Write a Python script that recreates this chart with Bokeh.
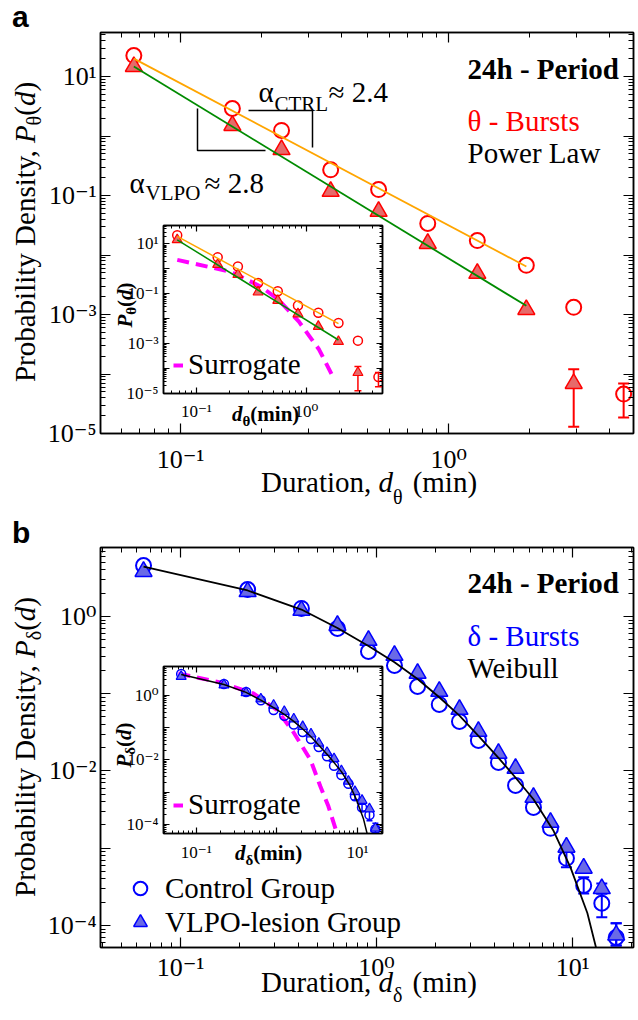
import math
from bokeh.plotting import figure
from bokeh.layouts import column
from bokeh.models import (Range1d, LogAxis, FixedTicker, CustomJSTickFormatter, Label,
                          Whisker, TeeHead, ColumnDataSource, Legend, LegendItem, Div)
from bokeh.embed import file_html
from bokeh.resources import INLINE

SERIF = "'Liberation Serif', 'Times New Roman', Times, 'DejaVu Serif', serif"
SANS = "'Liberation Sans', Arial, 'DejaVu Sans', sans-serif"
RED, BLUE = "#FF0000", "#0000FF"
ORANGE, GREEN, MAGENTA = "#FFA500", "#008B00", "#FF00FF"
RED_FILL, BLUE_FILL = "#E66A6A", "#6A6AE6"

# ---------------- panel a : theta bursts ----------------
theta_d = [0.0669, 0.156, 0.238, 0.363, 0.548, 0.836, 1.28, 1.95, 2.93, 4.5]
theta_ctrl = [22.5, 2.9, 1.24, 0.27, 0.126, 0.034, 0.0175, 0.0067, 0.00132, 4.6e-5]
theta_vlpo = [14.7, 1.5, 0.59, 0.117, 0.054, 0.0156, 0.0049, 0.00121, 6.9e-5]
theta_ctrl_err_d = [4.5]
theta_ctrl_err_lo = [1.86e-5]
theta_ctrl_err_hi = [6.9e-5]
theta_vlpo_err_d = [2.93]
theta_vlpo_err_lo = [1.3e-5]
theta_vlpo_err_hi = [1.2e-4]
theta_fit_d = [0.0669, 1.95]
theta_ctrl_fit = [20.0, 0.0064]
theta_vlpo_fit = [14.7, 0.0014]
theta_surr_d = [0.067, 0.206, 0.389, 0.558, 0.853, 1.30, 1.79]
theta_surr_p = [2.3, 0.76, 0.19, 0.057, 0.0076, 5.8e-4, 3.6e-5]

# ---------------- panel b : delta bursts ----------------
delta_d = [0.0648, 0.22, 0.414, 0.632, 0.91, 1.235, 1.62, 2.09, 2.65, 3.31, 4.19,
           5.12, 6.32, 7.72, 9.31, 11.4, 14.1, 16.7]
delta_ctrl = [4.57, 2.23, 1.27, 0.70, 0.352, 0.232, 0.124, 0.0727, 0.0438, 0.0249, 0.0129,
              0.00651, 0.00338, 0.00181, 7.4e-4, 3.3e-4, 1.94e-4, 7.0e-5]
delta_vlpo = [3.82, 2.1, 1.2, 0.765, 0.49, 0.313, 0.183, 0.107, 0.0627, 0.0325, 0.0169,
              0.0108, 0.00455, 0.00216, 1.03e-3, 5.5e-4, 3.0e-4, 7.5e-5]
delta_ctrl_err_d = [9.31, 11.4, 14.1, 16.7]
delta_ctrl_err_lo = [5.66e-4, 2.6e-4, 1.28e-4, 5.5e-5]
delta_ctrl_err_hi = [9.4e-4, 4.2e-4, 2.6e-4, 1.07e-4]
delta_vlpo_err_d = [14.1, 16.7]
delta_vlpo_err_lo = [2.6e-4, 5.5e-5]
delta_vlpo_err_hi = [3.5e-4, 1.07e-4]
weibull_d = [0.0648, 0.22, 0.414, 0.632, 0.91, 1.235, 1.62, 2.09, 2.65, 3.31, 4.19,
             5.0, 6.32, 8.0, 9.77, 11.9, 13.7]
weibull_p = [4.43, 2.17, 1.23, 0.71, 0.415, 0.255, 0.155, 0.09, 0.052, 0.0285, 0.0148,
             0.0088, 0.0043, 0.00168, 5.6e-4, 1.45e-4, 3.5e-5]
delta_surr_d = [0.0597, 0.199, 0.51, 1.01, 1.6, 2.61, 3.47, 4.36, 6.15]
delta_surr_p = [4.75, 2.51, 1.15, 0.346, 0.0727, 0.01, 1.48e-3, 3.6e-4, 2.4e-5]

# ---------------- layout geometry (page px) and log10 axis ranges ----------------
PAGE_W, PAGE_H = 636, 1018
BORDER_L, BORDER_R = 100, 3          # identical side borders for every plot in the column
GA = dict(L=100, R=633, T=32, B=433, x0=-1.299, x1=0.690, y0=-5.0, y1=1.74)
GAI = dict(L=163, R=382, T=225, B=393, x0=-1.299, x1=0.690, y0=-5.0, y1=1.74)
GB = dict(L=100, R=633, T=547, B=947, x0=-1.408, x1=1.311, y0=-4.285, y1=0.893)
GBI = dict(L=163, R=382, T=666, B=833, x0=-1.408, x1=1.311, y0=-4.285, y1=0.893)


def to_data(g, px, py):
    lx = g["x0"] + (px - g["L"]) / (g["R"] - g["L"]) * (g["x1"] - g["x0"])
    ly = g["y0"] + (g["B"] - py) / (g["B"] - g["T"]) * (g["y1"] - g["y0"])
    return 10 ** lx, 10 ** ly


def decade_ticker(lo, hi):
    klo, khi = math.floor(lo), math.ceil(hi)
    majors = [10.0 ** k for k in range(klo, khi + 1)]
    minors = [m * 10.0 ** k for k in range(klo, khi + 1) for m in range(2, 10)]
    return FixedTicker(ticks=majors, minor_ticks=minors)


def sup_fmt(show):
    return CustomJSTickFormatter(args=dict(show=list(show)), code="""
const e = Math.round(Math.log10(tick));
if (show.indexOf(e) < 0) { return ""; }
const sup = {"-": "\u207b", "0": "\u2070", "1": "\u00b9", "2": "\u00b2", "3": "\u00b3",
             "4": "\u2074", "5": "\u2075"};
return "10" + String(e).split("").map(c => sup[c]).join("");
""")


def make_fig(g, top, height, show_x, show_y, tick_font, tick_len, minor_len, sx, sy,
             inset=False):
    left = g["L"] - BORDER_L
    width = BORDER_L + (g["R"] - g["L"]) + BORDER_R
    p = figure(width=width, height=height, x_axis_type="log", y_axis_type="log",
               x_range=Range1d(10 ** g["x0"], 10 ** g["x1"]),
               y_range=Range1d(10 ** g["y0"], 10 ** g["y1"]),
               output_backend="svg", toolbar_location=None,
               min_border_left=BORDER_L, min_border_right=BORDER_R,
               min_border_top=g["T"] - top, min_border_bottom=top + height - g["B"])
    p.xgrid.visible = False
    p.ygrid.visible = False
    p.outline_line_color = "black"
    p.outline_line_width = 1.5
    if inset:
        p.background_fill_color = None
        p.border_fill_color = None
    bottom_ax = p.below[0]
    left_ax = p.left[0]
    top_ax = LogAxis()
    right_ax = LogAxis()
    p.add_layout(top_ax, "above")
    p.add_layout(right_ax, "right")
    xt = decade_ticker(g["x0"], g["x1"])
    yt = decade_ticker(g["y0"], g["y1"])
    for ax, t in ((bottom_ax, xt), (top_ax, xt), (left_ax, yt), (right_ax, yt)):
        ax.ticker = t
        ax.major_tick_in = tick_len
        ax.major_tick_out = 0
        ax.minor_tick_in = minor_len
        ax.minor_tick_out = 0
        ax.axis_line_color = "black"
        ax.axis_line_width = 1.5
        ax.major_tick_line_width = 1.2
        ax.minor_tick_line_width = 1.0
        ax.major_label_text_font = SERIF
        ax.major_label_text_color = "black"
        ax.axis_label = None
    bottom_ax.formatter = sup_fmt(show_x)
    left_ax.formatter = sup_fmt(show_y)
    bottom_ax.major_label_text_font_size = f"{tick_font}px"
    left_ax.major_label_text_font_size = f"{tick_font}px"
    bottom_ax.major_label_standoff = sx
    left_ax.major_label_standoff = sy
    for ax in (top_ax, right_ax):
        ax.formatter = sup_fmt([])
        ax.major_label_text_font_size = "0px"
        ax.major_label_standoff = 0
    return p, left


def whisker(p, d, lo, hi, color, lw, head):
    src = ColumnDataSource(dict(d=d, lo=lo, hi=hi))
    p.add_layout(Whisker(source=src, base="d", lower="lo", upper="hi", dimension="height",
                         line_color=color, line_width=lw,
                         upper_head=TeeHead(size=head, line_color=color, line_width=lw),
                         lower_head=TeeHead(size=head, line_color=color, line_width=lw)))


def surrogate_legend(p, r):
    p.add_layout(Legend(items=[LegendItem(label="Surrogate", renderers=[r])],
                        location=(10, 12), label_text_font=SERIF,
                        label_text_font_size="29px", label_text_color="black",
                        glyph_width=10, glyph_height=20,
                        label_standoff=5, padding=0, margin=0, spacing=0,
                        border_line_color=None, background_fill_alpha=0))


def put(p, g, px, py, text, size, color="black", style="normal"):
    x, y = to_data(g, px, py)
    p.add_layout(Label(x=x, y=y, text=text, text_font=SERIF, text_font_size=f"{size}px",
                       text_color=color, text_font_style=style, text_align="left",
                       text_baseline="alphabetic"))


# ======================= panel a (main) =======================
pa, _ = make_fig(GA, 0, 508, [-1, 0], [1, -1, -3, -5], 26, 10, 5, 11, 4)
whisker(pa, theta_ctrl_err_d, theta_ctrl_err_lo, theta_ctrl_err_hi, RED, 2, 11)
whisker(pa, theta_vlpo_err_d, theta_vlpo_err_lo, theta_vlpo_err_hi, RED, 2, 11)
pa.scatter(theta_d, theta_ctrl, marker="circle", size=15, fill_color=None,
           line_color=RED, line_width=2)
pa.scatter(theta_d[:len(theta_vlpo)], theta_vlpo, marker="triangle", size=17,
           fill_color=RED_FILL, line_color=RED, line_width=1.5)
pa.line(theta_fit_d, theta_ctrl_fit, line_color=ORANGE, line_width=1.8)
pa.line(theta_fit_d, theta_vlpo_fit, line_color=GREEN, line_width=1.8)
bx, by = zip(*[to_data(GA, *pt) for pt in [(197, 108), (197, 150), (265, 150)]])
pa.line(list(bx), list(by), line_color="black", line_width=1.5)
bx, by = zip(*[to_data(GA, *pt) for pt in [(248, 110), (312, 110), (312, 147)]])
pa.line(list(bx), list(by), line_color="black", line_width=1.5)
put(pa, GA, 467, 68, "24h - Period", 29, style="bold")
put(pa, GA, 467, 120, "θ - Bursts", 29, color=RED)
put(pa, GA, 467, 152, "Power Law", 29)
put(pa, GA, 129, 182, "α", 29)
put(pa, GA, 145, 192, "VLPO", 21)
put(pa, GA, 204, 182, "≈ 2.8", 29)
put(pa, GA, 258, 91, "α", 29)
put(pa, GA, 274, 103, "CTRL", 21)
put(pa, GA, 328, 91, "≈ 2.4", 29)

# ======================= panel a (inset) =======================
pai, pai_left = make_fig(GAI, 221, 208, [-1, 0], [1, -1, -3, -5], 17, 6, 3, 8, 5, inset=True)
r_sa = pai.line(theta_surr_d, theta_surr_p, line_color=MAGENTA, line_width=4,
                line_dash="12 7")
whisker(pai, theta_ctrl_err_d, theta_ctrl_err_lo, theta_ctrl_err_hi, RED, 1.5, 7)
whisker(pai, theta_vlpo_err_d, theta_vlpo_err_lo, theta_vlpo_err_hi, RED, 1.5, 7)
pai.scatter(theta_d, theta_ctrl, marker="circle", size=9, fill_color=None,
            line_color=RED, line_width=1.5)
pai.scatter(theta_d[:len(theta_vlpo)], theta_vlpo, marker="triangle", size=10,
            fill_color=RED_FILL, line_color=RED, line_width=1.2)
pai.line(theta_fit_d, theta_ctrl_fit, line_color=ORANGE, line_width=1.5)
pai.line(theta_fit_d, theta_vlpo_fit, line_color=GREEN, line_width=1.5)
surrogate_legend(pai, r_sa)

# ======================= panel b (main) =======================
pb, _ = make_fig(GB, 508, PAGE_H - 508, [-1, 0, 1], [0, -2, -4], 26, 10, 5, 5, 4)
whisker(pb, delta_ctrl_err_d, delta_ctrl_err_lo, delta_ctrl_err_hi, BLUE, 2, 11)
whisker(pb, delta_vlpo_err_d, delta_vlpo_err_lo, delta_vlpo_err_hi, BLUE, 2, 11)
r_cb = pb.scatter(delta_d, delta_ctrl, marker="circle", size=15, fill_color=None,
                  line_color=BLUE, line_width=2)
r_vb = pb.scatter(delta_d, delta_vlpo, marker="triangle", size=17, fill_color=BLUE_FILL,
                  line_color=BLUE, line_width=1.5)
pb.line(weibull_d, weibull_p, line_color="black", line_width=1.8)
pb.add_layout(Legend(items=[LegendItem(label="Control Group", renderers=[r_cb]),
                            LegendItem(label="VLPO-lesion Group", renderers=[r_vb])],
                     location=(21, 8), label_text_font=SERIF, label_text_font_size="29px",
                     label_text_color="black",
                     glyph_width=38, glyph_height=34, label_height=34, label_standoff=6,
                     padding=0, margin=0, spacing=0, border_line_color=None,
                     background_fill_alpha=0))
put(pb, GB, 467, 582, "24h - Period", 29, style="bold")
put(pb, GB, 467, 635, "δ - Bursts", 29, color=BLUE)
put(pb, GB, 467, 667, "Weibull", 29)

# ======================= panel b (inset) =======================
pbi, pbi_left = make_fig(GBI, 662, 207, [-1, 1], [0, -2, -4], 17, 6, 3, 9, 5, inset=True)
r_sb = pbi.line(delta_surr_d, delta_surr_p, line_color=MAGENTA, line_width=4,
                line_dash="12 7")
whisker(pbi, delta_ctrl_err_d, delta_ctrl_err_lo, delta_ctrl_err_hi, BLUE, 1.5, 6)
pbi.scatter(delta_d, delta_ctrl, marker="circle", size=9, fill_color=None,
            line_color=BLUE, line_width=1.5)
pbi.scatter(delta_d, delta_vlpo, marker="triangle", size=10, fill_color=BLUE_FILL,
            line_color=BLUE, line_width=1.2)
pbi.line(weibull_d, weibull_p, line_color="black", line_width=1.5)
surrogate_legend(pbi, r_sb)

# ======================= axis titles and panel letters (HTML overlay) =======================
ASC = 0.8375  # baseline offset of Liberation Serif with line-height 1


def at_baseline(left, baseline, size, html, extra=""):
    return (f'<div style="position:absolute;left:{left}px;top:{baseline - ASC * size:.1f}px;'
            f'font-size:{size}px;line-height:1;white-space:nowrap;{extra}">{html}</div>')


def centered(cx, baseline, size, html, extra=""):
    return at_baseline(cx - 200, baseline, size, html, f"width:400px;text-align:center;{extra}")


def rotated(cx, cy, size, h, html, extra=""):
    return (f'<div style="position:absolute;left:{cx - 200}px;top:{cy - h / 2}px;width:400px;'
            f'height:{h}px;line-height:{h}px;font-size:{size}px;text-align:center;'
            f'white-space:nowrap;transform:rotate(-90deg);{extra}">{html}</div>')


def sub(ch, size, shift):
    return f'<span style="font-size:{size}px;line-height:1;vertical-align:-{shift}px">{ch}</span>'


items = [
    at_baseline(12, 27, 30, "a", f"font-family:{SANS};font-weight:bold;line-height:1.0;"),
    rotated(25, 232, 29, 34, f"Probability Density, <i>P</i>{sub('θ', 20, 6)}(<i>d</i>)"),
    centered(369, 492, 29, f"Duration, <i>d</i>{sub('θ', 20, 12)}"
                           f"<span style='margin-left:10px'>(min)</span>"),
    rotated(125, 305, 21, 26, f"<i>P</i>{sub('θ', 15, 4)}(<i>d</i>)", "font-weight:bold;"),
    at_baseline(232, 422, 21, f"<i>d</i>{sub('θ', 15, 5)}(min)", "font-weight:bold;"),
    at_baseline(12, 543, 30, "b", f"font-family:{SANS};font-weight:bold;"),
    rotated(25, 747, 29, 34, f"Probability Density, <i>P</i>{sub('δ', 20, 6)}(<i>d</i>)"),
    centered(369, 992, 29, f"Duration, <i>d</i>{sub('δ', 20, 10)}"
                           f"<span style='margin-left:10px'>(min)</span>"),
    rotated(124, 745, 21, 26, f"<i>P</i>{sub('δ', 15, 4)}(<i>d</i>)", "font-weight:bold;"),
    at_baseline(235, 861, 21, f"<i>d</i>{sub('δ', 15, 5)}(min)", "font-weight:bold;"),
]
overlay = Div(text=(f'<div style="position:relative;width:{PAGE_W}px;height:{PAGE_H}px;'
                    f'font-family:{SERIF};color:black;">' + "".join(items) + "</div>"),
              width=PAGE_W, height=PAGE_H)

# ======================= stack everything with negative margins =======================
pai.margin = (221 - 508, 0, 0, pai_left)
pb.margin = (508 - (221 + 208), 0, 0, 0)
pbi.margin = (662 - PAGE_H, 0, 0, pbi_left)
overlay.margin = (0 - (662 + 207), 0, 0, 0)

layout = column(pa, pai, pb, pbi, overlay)
open("out.html", "w", encoding="utf-8").write(file_html(layout, INLINE))
